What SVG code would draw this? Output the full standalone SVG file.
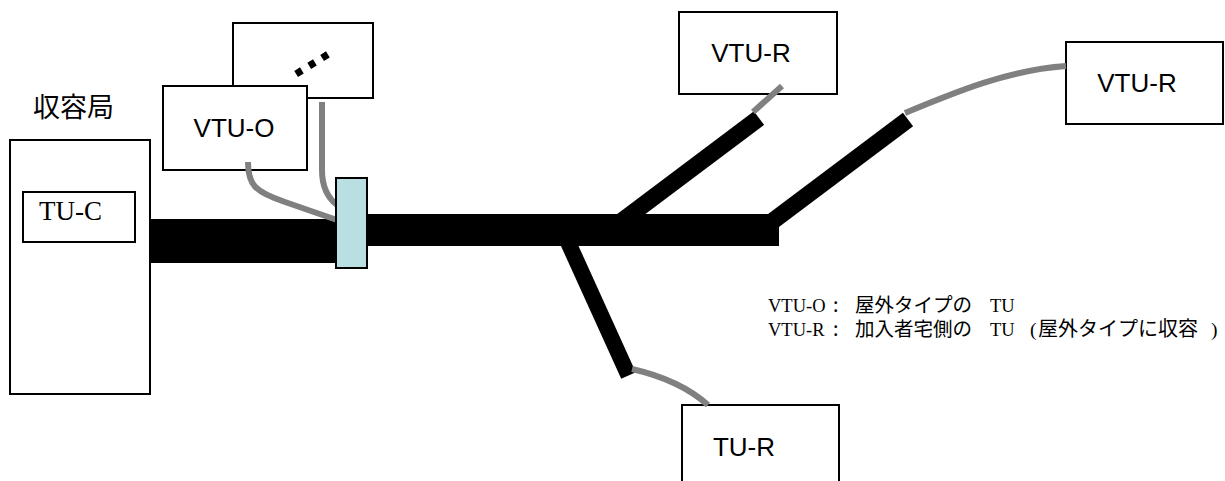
<svg xmlns="http://www.w3.org/2000/svg" width="1225" height="481" viewBox="0 0 1225 481">
<style>
.box{fill:#fff;stroke:#000;stroke-width:2}
.lbl{font-family:"Liberation Sans",Arial,sans-serif;font-size:26px;fill:#000;text-anchor:middle}
.ser{font-family:"Liberation Serif","Times New Roman",serif;fill:#000}
.jp{font-family:"Noto Sans CJK JP","Noto Sans",sans-serif;fill:#000}
.gray{fill:none;stroke:#808080;stroke-width:6}
.blk{stroke:#000;fill:none}
</style>
<rect width="1225" height="481" fill="#fff"/>

<g id="central-office">
  <rect class="box" x="10" y="140" width="140" height="254"/>
  <text class="jp" x="33" y="117" font-size="27">収容局</text>
</g>
<g id="tu-c">
  <rect class="box" x="23" y="192" width="112" height="50"/>
  <text class="ser" x="39" y="220" font-size="27">TU-C</text>
</g>
<g id="more-vtu-o">
  <rect class="box" x="233" y="23" width="140" height="75"/>
  <text transform="translate(312.7,65) rotate(-31.6)" x="0" y="2.5" text-anchor="middle" font-family="Liberation Sans,Arial,sans-serif" font-weight="bold" font-size="48">…</text>
</g>
<g id="vtu-o">
  <rect class="box" x="163" y="86" width="144" height="84"/>
  <text class="lbl" x="234" y="137">VTU-O</text>
</g>
<g id="vtu-r1">
  <rect class="box" x="679" y="12" width="158" height="82"/>
  <text class="lbl" x="751" y="62">VTU-R</text>
</g>
<g id="vtu-r2">
  <rect class="box" x="1066" y="42" width="157" height="82"/>
  <text class="lbl" x="1137" y="92">VTU-R</text>
</g>
<g id="tu-r">
  <rect class="box" x="682" y="405" width="157" height="90"/>
  <text class="lbl" x="744" y="456">TU-R</text>
</g>

<g id="connectors">
  <rect x="150" y="219" width="188" height="44" fill="#000"/>
  <rect x="365" y="214" width="414" height="32" fill="#000"/>
  <line class="blk" x1="610" y1="230" x2="759" y2="118" stroke-width="17"/>
  <line class="blk" x1="773.5" y1="220.5" x2="908" y2="119.5" stroke-width="17"/>
  <line class="blk" x1="562.5" y1="230" x2="628.5" y2="375.5" stroke-width="16"/>
  <path class="gray" d="M753,112 L782,86"/>
  <path class="gray" d="M905,113 C960,90 1010,70 1066,66"/>
  <path class="gray" d="M632,369 Q680,380 708,405"/>
  <path class="gray" d="M248,162 C248,185 255,192 285,202 L337,220"/>
  <path class="gray" d="M322,102 L322,170 C322,188 328,198 337,205"/>
  <rect x="336" y="178" width="31" height="90" fill="#b9dfe2" stroke="#000" stroke-width="2"/>
</g>

<g id="legend">
  <text y="312" font-size="19.5"><tspan class="ser" x="768" font-size="18.5">VTU-O</tspan><tspan class="jp" x="833">:</tspan><tspan class="jp" x="855">屋外タイプの</tspan><tspan class="ser" x="990" font-size="18.5">TU</tspan></text>
  <text y="336" font-size="19.5"><tspan class="ser" x="768" font-size="18.5">VTU-R</tspan><tspan class="jp" x="833">:</tspan><tspan class="jp" x="855">加入者宅側の</tspan><tspan class="ser" x="990" font-size="18.5">TU</tspan><tspan class="ser" x="1030">(</tspan><tspan class="jp" x="1038" font-size="20">屋外タイプに収容</tspan><tspan class="ser" x="1211">)</tspan></text>
</g>
</svg>
